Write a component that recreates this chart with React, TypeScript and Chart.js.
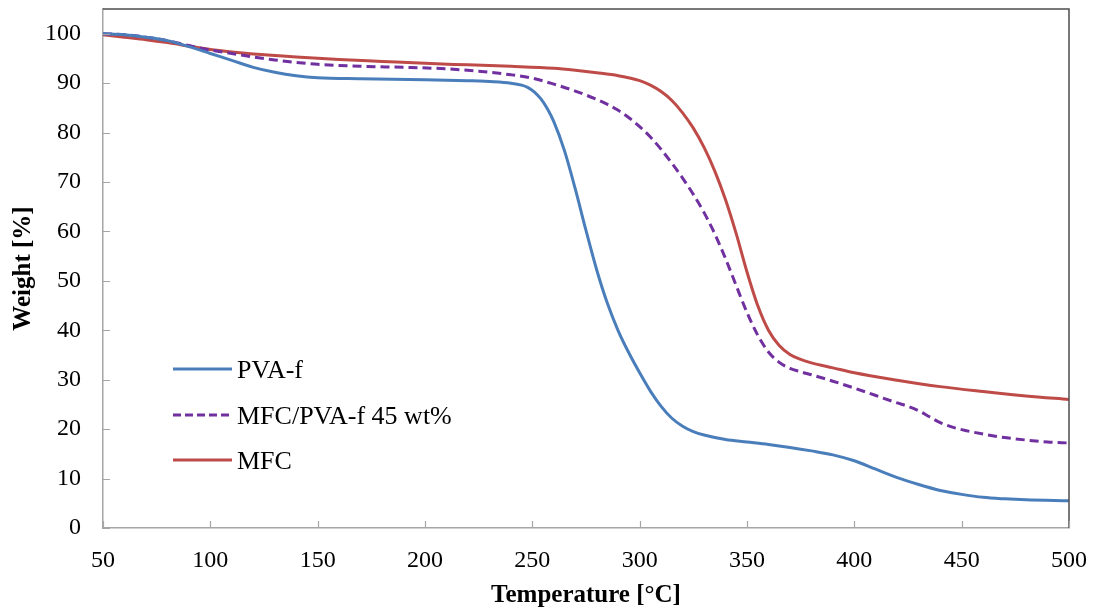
import React, { useEffect, useRef } from "react";
import { Chart, registerables } from "chart.js";

Chart.register(...registerables);

const seriesNames = ["PVA-f", "MFC/PVA-f 45 wt%", "MFC"];

const pvaT = [50, 60, 70, 80, 90, 100, 110, 120, 130, 140, 150, 170, 200, 220, 232, 240, 245, 248, 251, 254, 257, 260, 265, 270, 275, 280, 285, 290, 295, 300, 305, 310, 315, 320, 325, 330, 340, 350, 360, 370, 380, 390, 400, 410, 420, 430, 440, 450, 460, 470, 480, 500];
const pvaW = [100, 99.8, 99.3, 98.6, 97.4, 96.0, 94.6, 93.2, 92.2, 91.5, 91.1, 90.9, 90.7, 90.5, 90.3, 90.0, 89.6, 89.1, 88.2, 86.8, 84.8, 82.2, 76.3, 68.6, 60.2, 52.2, 45.4, 39.9, 35.4, 31.4, 27.7, 24.6, 22.2, 20.6, 19.5, 18.8, 17.9, 17.4, 16.9, 16.3, 15.6, 14.8, 13.6, 11.9, 10.2, 8.8, 7.6, 6.8, 6.2, 5.9, 5.7, 5.5];

const mixT = [50, 60, 70, 80, 90, 100, 110, 120, 130, 140, 150, 170, 190, 210, 225, 240, 250, 260, 270, 280, 285, 290, 295, 300, 305, 310, 315, 320, 325, 330, 335, 340, 345, 350, 355, 360, 365, 370, 375, 380, 390, 400, 410, 420, 425, 430, 435, 440, 445, 450, 460, 470, 480, 490, 500];
const mixW = [100, 99.8, 99.3, 98.6, 97.6, 96.7, 96.0, 95.3, 94.7, 94.2, 93.8, 93.4, 93.2, 92.9, 92.4, 91.7, 91.0, 89.8, 88.4, 86.7, 85.7, 84.5, 83.0, 81.2, 79.1, 76.6, 73.8, 70.8, 67.5, 63.8, 59.5, 54.5, 49.0, 43.6, 39.0, 35.6, 33.5, 32.3, 31.6, 31.0, 29.7, 28.3, 26.8, 25.3, 24.6, 23.7, 22.5, 21.3, 20.5, 19.9, 19.0, 18.3, 17.8, 17.4, 17.2];

const mfcT = [50, 60, 70, 80, 90, 100, 110, 120, 140, 160, 180, 200, 220, 240, 260, 270, 280, 290, 300, 305, 310, 315, 320, 325, 330, 335, 340, 345, 350, 355, 360, 365, 370, 375, 380, 390, 400, 420, 440, 460, 480, 500];
const mfcW = [99.8, 99.3, 98.8, 98.2, 97.5, 96.8, 96.3, 95.9, 95.3, 94.8, 94.4, 94.0, 93.7, 93.4, 93.0, 92.6, 92.1, 91.5, 90.5, 89.6, 88.3, 86.5, 84.0, 80.9, 77.0, 72.2, 66.4, 59.5, 51.8, 45.0, 40.0, 36.9, 35.1, 34.1, 33.4, 32.4, 31.4, 29.9, 28.6, 27.6, 26.7, 26.0];

const xTicks = [50, 100, 150, 200, 250, 300, 350, 400, 450, 500];
const yTicks = [0, 10, 20, 30, 40, 50, 60, 70, 80, 90, 100];

const colors = ["#4a7ebb", "#7030a0", "#be4b48"];

const FONT = "'Liberation Serif', 'Times New Roman', serif";

const toPoints = (xs: number[], ys: number[]) => xs.map((x, i) => ({ x, y: ys[i] }));

const framePlugin = {
  id: "frame",
  afterDraw(chart: any) {
    const { ctx, chartArea } = chart;
    const { left, right, top, bottom } = chartArea;
    const xs = chart.scales.x;
    const ys = chart.scales.y;
    ctx.save();
    ctx.strokeStyle = "#4d4d4d";
    ctx.lineWidth = 1.5;
    ctx.beginPath();
    ctx.moveTo(left, top);
    ctx.lineTo(right, top);
    ctx.lineTo(right, bottom);
    ctx.stroke();
    ctx.strokeStyle = "#a6a6a6";
    ctx.lineWidth = 1.2;
    ctx.beginPath();
    xTicks.forEach((v) => {
      const px = Math.round(xs.getPixelForValue(v)) + 0.5;
      ctx.moveTo(px, bottom);
      ctx.lineTo(px, bottom - 7);
    });
    yTicks.forEach((v) => {
      const py = Math.round(ys.getPixelForValue(v)) + 0.5;
      ctx.moveTo(left, py);
      ctx.lineTo(left + 7, py);
    });
    ctx.stroke();
    const rows = [369, 415, 460];
    ctx.font = `26px ${FONT}`;
    ctx.textBaseline = "middle";
    ctx.textAlign = "left";
    seriesNames.forEach((name, i) => {
      const y = rows[i];
      ctx.strokeStyle = colors[i];
      ctx.lineWidth = 3;
      ctx.setLineDash(i === 1 ? [8, 4] : []);
      ctx.beginPath();
      ctx.moveTo(173, y);
      ctx.lineTo(232, y);
      ctx.stroke();
      ctx.setLineDash([]);
      ctx.fillStyle = "#000";
      ctx.fillText(name, 237, y + 2);
    });
    ctx.restore();
  },
};

const zeroPad = (s: any) => {
  s.paddingTop = 0;
  s.paddingBottom = 0;
  s.paddingLeft = 0;
  s.paddingRight = 0;
};

export default function App() {
  const ref = useRef<HTMLCanvasElement | null>(null);
  useEffect(() => {
    if (!ref.current) return;
    const chart = new Chart(ref.current, {
      type: "line",
      data: {
        datasets: [
          {
            label: seriesNames[0],
            data: toPoints(pvaT, pvaW),
            borderColor: colors[0],
            borderWidth: 3,
            pointRadius: 0,
            cubicInterpolationMode: "monotone",
          },
          {
            label: seriesNames[1],
            data: toPoints(mixT, mixW),
            borderColor: colors[1],
            borderWidth: 3,
            borderDash: [9, 5],
            pointRadius: 0,
            cubicInterpolationMode: "monotone",
          },
          {
            label: seriesNames[2],
            data: toPoints(mfcT, mfcW),
            borderColor: colors[2],
            borderWidth: 3,
            pointRadius: 0,
            cubicInterpolationMode: "monotone",
          },
        ],
      },
      options: {
        responsive: false,
        animation: false,
        layout: { padding: { top: 9, right: 25, left: 0, bottom: 0 } },
        plugins: { legend: { display: false }, tooltip: { enabled: false } },
        scales: {
          x: {
            type: "linear",
            min: 50,
            max: 500,
            grid: { display: false, drawTicks: false },
            border: { display: true, color: "#a6a6a6", width: 1.5 },
            afterBuildTicks: (s: any) => {
              s.ticks = xTicks.map((v) => ({ value: v }));
            },
            afterFit: (s: any) => {
              s.height = 84;
              zeroPad(s);
            },
            ticks: {
              color: "#000",
              font: { family: FONT, size: 24 },
              padding: 18,
              maxRotation: 0,
              autoSkip: false,
            },
            title: {
              display: true,
              text: "Temperature [°C]",
              color: "#000",
              font: { family: FONT, size: 25, weight: "bold" },
              padding: { top: 0, bottom: 1 },
            },
          },
          y: {
            type: "linear",
            min: 0,
            max: 105,
            grid: { display: false, drawTicks: false },
            border: { display: true, color: "#a6a6a6", width: 1.5 },
            afterBuildTicks: (s: any) => {
              s.ticks = yTicks.map((v) => ({ value: v }));
            },
            afterFit: (s: any) => {
              s.width = 103;
              zeroPad(s);
            },
            ticks: {
              color: "#000",
              font: { family: FONT, size: 24 },
              padding: 22,
              autoSkip: false,
            },
            title: {
              display: true,
              text: "Weight [%]",
              color: "#000",
              font: { family: FONT, size: 25, weight: "bold" },
              padding: { top: 9, bottom: 0 },
            },
          },
        },
      },
      plugins: [framePlugin],
    });
    return () => chart.destroy();
  }, []);
  return (
    <div style={{ position: "absolute", left: 0, top: 0, width: 1094, height: 612, background: "#fff" }}>
      <canvas ref={ref} width={1094} height={612} style={{ display: "block" }} />
    </div>
  );
}
